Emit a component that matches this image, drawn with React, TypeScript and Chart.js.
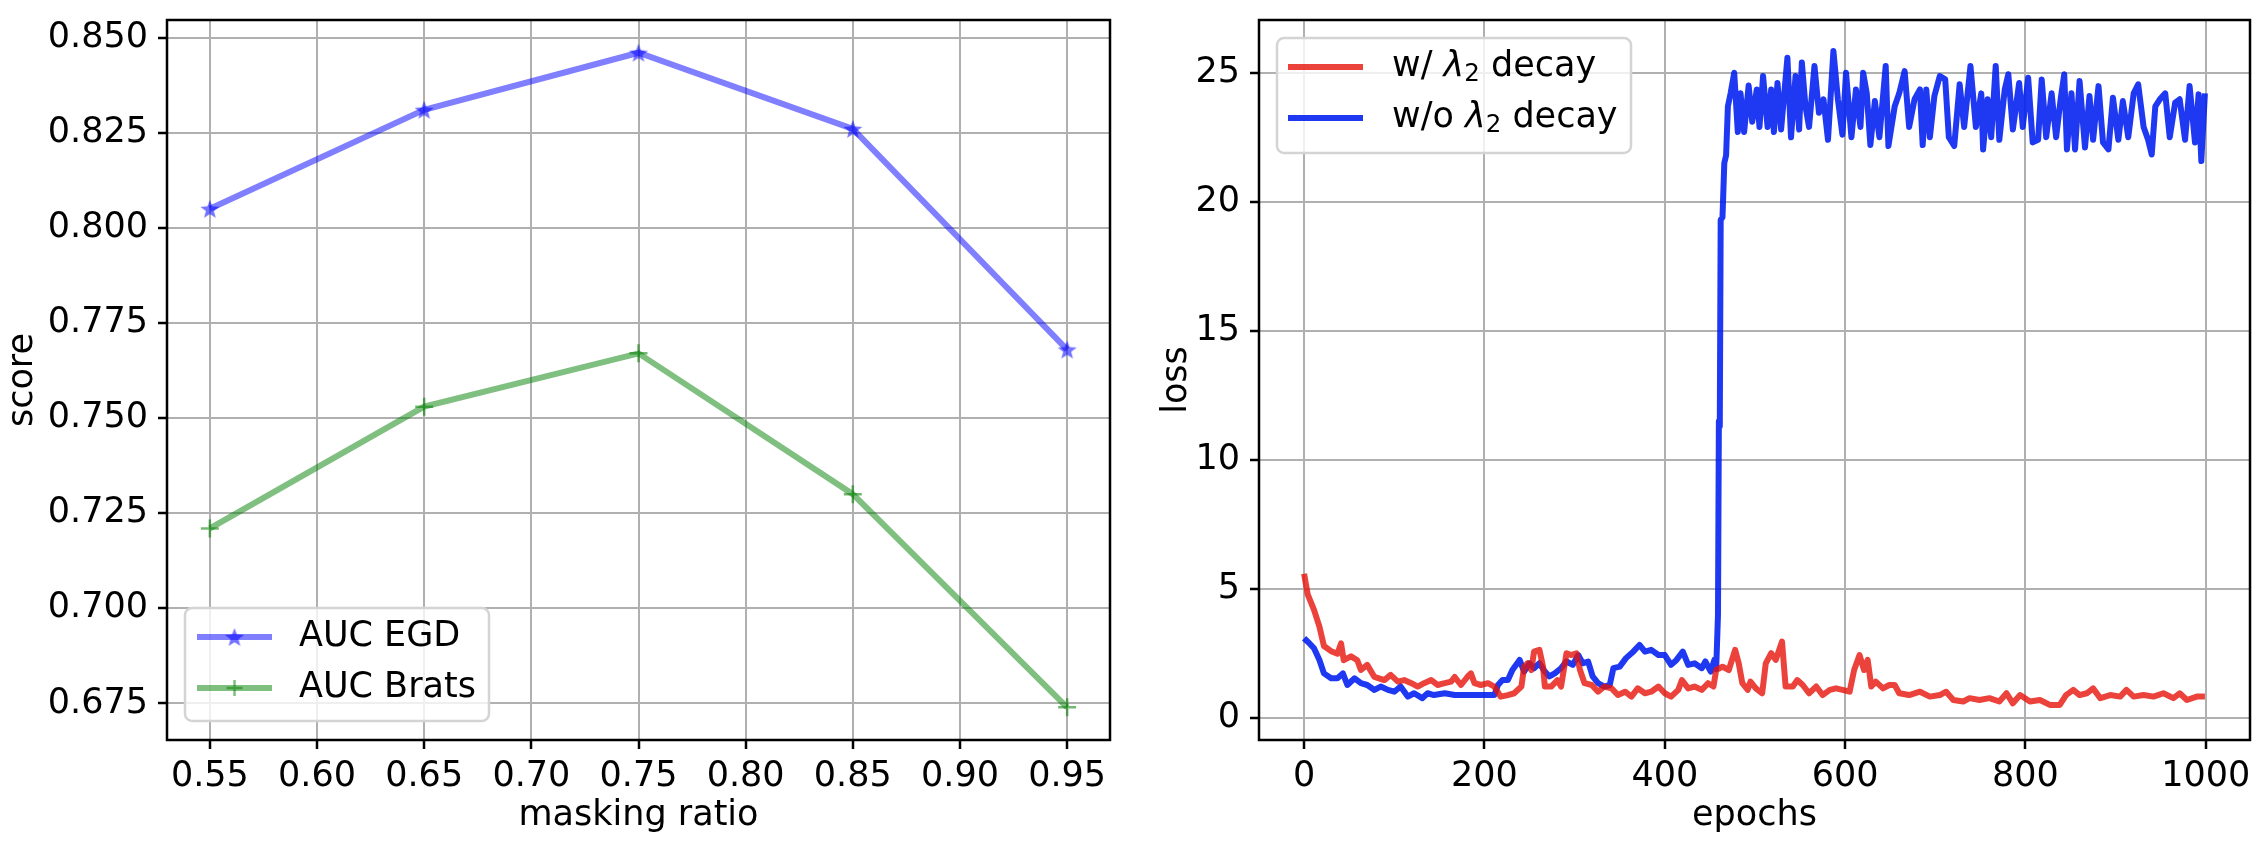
import { useEffect, useRef } from 'react'
import { Chart, registerables } from 'chart.js'

Chart.register(...registerables)

// left panel: score vs masking ratio
const maskingRatio = [0.55, 0.65, 0.75, 0.85, 0.95]
const aucEgd = [0.805, 0.831, 0.846, 0.826, 0.768]
const aucBrats = [0.721, 0.753, 0.767, 0.730, 0.674]
const ratioTicks = [0.55, 0.6, 0.65, 0.7, 0.75, 0.8, 0.85, 0.9, 0.95]
const scoreTicks = [0.675, 0.7, 0.725, 0.75, 0.775, 0.8, 0.825, 0.85]

// right panel: loss vs epochs
const epochTicks = [0, 200, 400, 600, 800, 1000]
const lossTicks = [0, 5, 10, 15, 20, 25]

const redEpochs = [
  0, 4, 11, 17, 22, 30, 37, 41, 44, 52, 59, 63, 70, 78, 89, 96, 104, 111, 119, 126,
  133, 141, 148, 156, 163, 167, 174, 181, 185, 189, 196, 204, 211, 218, 226, 233, 241, 244, 248, 252,
  255, 261, 265, 267, 274, 281, 285, 291, 296, 302, 306, 311, 319, 326, 333, 341, 348, 356, 363, 370,
  378, 385, 393, 400, 407, 415, 419, 426, 433, 441, 448, 454, 457, 464, 471, 478, 482, 486, 492, 495,
  501, 508, 512, 518, 523, 530, 534, 542, 547, 553, 560, 568, 575, 583, 590, 597, 605, 610, 616, 621,
  625, 629, 634, 642, 649, 655, 660, 671, 683, 694, 705, 712, 720, 731, 738, 749, 760, 771, 779, 786,
  794, 805, 816, 827, 838, 845, 853, 860, 868, 875, 883, 894, 905, 912, 920, 931, 942, 953, 964, 971,
  979, 990, 999,
]
const redLoss = [
  5.6, 4.8, 4.2, 3.55, 2.8, 2.6, 2.5, 2.9, 2.25, 2.4, 2.25, 1.87, 2.07, 1.6, 1.48, 1.68, 1.42, 1.48, 1.36, 1.23,
  1.36, 1.48, 1.29, 1.36, 1.42, 1.6, 1.29, 1.6, 1.74, 1.36, 1.29, 1.36, 1.23, 0.84, 0.9, 0.97, 1.23, 2.0, 2.13, 1.87,
  2.58, 2.65, 2.0, 1.23, 1.23, 1.48, 1.23, 2.52, 2.45, 2.52, 1.87, 1.36, 1.29, 1.03, 1.23, 1.16, 0.9, 1.03, 0.84, 1.16,
  0.97, 1.03, 1.23, 0.97, 0.84, 1.1, 1.48, 1.16, 1.23, 1.1, 1.36, 1.23, 1.87, 2.0, 1.87, 2.65, 2.13, 1.36, 1.1, 1.42,
  1.16, 0.97, 2.13, 2.52, 2.26, 2.97, 1.23, 1.23, 1.48, 1.29, 0.97, 1.23, 0.9, 1.1, 1.16, 1.1, 1.03, 1.87, 2.45, 1.87,
  2.26, 1.23, 1.42, 1.16, 1.29, 1.29, 0.97, 0.9, 1.03, 0.84, 0.9, 1.03, 0.71, 0.65, 0.78, 0.71, 0.78, 0.65, 0.97, 0.58,
  0.9, 0.65, 0.71, 0.52, 0.52, 0.9, 1.1, 0.9, 0.97, 1.16, 0.78, 0.9, 0.84, 1.1, 0.84, 0.9, 0.84, 0.97, 0.78, 0.97,
  0.71, 0.84, 0.84,
]

const blueEpochs = [
  0, 6, 11, 17, 22, 30, 37, 43, 48, 56, 63, 70, 78, 85, 93, 100, 107, 115, 122, 131,
  137, 144, 156, 167, 178, 189, 200, 211, 215, 220, 226, 231, 239, 244, 250, 255, 261, 267, 272, 278,
  285, 291, 298, 304, 309, 315, 320, 326, 333, 339, 343, 350, 357, 365, 372, 378, 385, 393, 400, 407,
  413, 420, 426, 433, 441, 445, 451, 455, 457, 459, 460, 461, 462, 464, 466, 468, 470, 473, 477, 481,
  484, 488, 493, 497, 502, 505, 509, 514, 518, 521, 525, 529, 536, 540, 545, 549, 552, 556, 560, 566,
  571, 576, 581, 587, 592, 597, 601, 607, 612, 617, 620, 624, 628, 633, 638, 645, 648, 655, 660, 666,
  671, 677, 683, 686, 690, 694, 699, 705, 711, 715, 721, 727, 732, 739, 745, 751, 753, 758, 762, 767,
  771, 777, 781, 786, 793, 797, 803, 808, 814, 818, 823, 829, 834, 839, 843, 846, 851, 855, 860, 866,
  871, 875, 881, 886, 892, 897, 903, 908, 914, 920, 925, 931, 936, 940, 944, 949, 955, 960, 966, 971,
  977, 982, 988, 992, 995, 999,
]
const blueLoss = [
  3.1, 2.9, 2.71, 2.26, 1.74, 1.55, 1.55, 1.74, 1.29, 1.55, 1.36, 1.29, 1.1, 1.23, 1.1, 1.03, 1.23, 0.84, 0.97, 0.78,
  0.97, 0.9, 0.97, 0.9, 0.9, 0.9, 0.9, 0.9, 1.29, 1.48, 1.48, 1.87, 2.26, 1.81, 2.13, 1.94, 2.13, 1.81, 1.62, 1.74,
  1.94, 2.2, 2.07, 2.45, 2.13, 2.2, 1.62, 1.36, 1.23, 1.29, 1.94, 2.0, 2.33, 2.58, 2.84, 2.58, 2.65, 2.45, 2.45, 2.07,
  2.26, 2.58, 2.07, 2.13, 1.94, 2.2, 1.81, 2.26, 1.9, 4.0, 11.5, 11.3, 19.3, 19.4, 21.5, 21.8, 23.7, 24.2, 25.0, 22.7,
  24.2, 22.7, 24.5, 23.1, 24.35, 22.9, 24.87, 22.9, 24.35, 22.7, 24.6, 22.8, 25.58, 22.5, 24.87, 22.8, 25.39, 23.7, 22.9, 25.26,
  23.45, 23.97, 22.4, 25.84, 23.97, 22.6, 25.0, 22.5, 24.35, 22.9, 25.0, 24.2, 22.2, 23.9, 22.5, 25.26, 22.16, 23.7, 24.2, 25.06,
  22.9, 23.97, 24.35, 22.2, 24.35, 22.5, 24.1, 24.87, 24.74, 22.5, 22.16, 24.55, 22.9, 25.26, 22.9, 24.2, 22.03, 23.97, 22.5, 25.26,
  22.4, 24.35, 24.94, 22.8, 24.6, 22.9, 24.8, 22.3, 22.4, 24.74, 22.5, 24.2, 22.5, 23.97, 24.94, 22.03, 24.2, 22.03, 24.68, 22.1,
  24.1, 22.4, 24.48, 22.3, 22.03, 24.03, 22.4, 23.9, 22.5, 24.2, 24.55, 22.9, 22.4, 21.83, 23.7, 23.97, 24.2, 22.5, 23.84, 23.97,
  22.4, 24.48, 22.3, 24.16, 21.58, 24.2,
]

const FAMILY = "'DejaVu Sans', sans-serif"
const FS = 35
const font = { family: FAMILY, size: FS }

type Part = { text: string; italic?: boolean; sub?: boolean }
type Row = { color: string; width: number; marker?: HTMLCanvasElement | 'plus'; markerColor?: string; parts: Part[] }
type BoxLegend = { x: number; y: number; w: number; h: number; lineX1: number; lineX2: number; textX: number; rowY: number[]; rows: Row[] }

function makeStar(r: number, color: string) {
  const c = document.createElement('canvas')
  const s = Math.ceil(r * 2 + 2)
  c.width = s
  c.height = s
  const ctx = c.getContext('2d')!
  ctx.beginPath()
  for (let i = 0; i < 10; i++) {
    const rad = i % 2 === 0 ? r : r * 0.42
    const a = -Math.PI / 2 + (i * Math.PI) / 5
    const px = s / 2 + rad * Math.cos(a)
    const py = s / 2 + 1 + rad * Math.sin(a)
    if (i === 0) ctx.moveTo(px, py)
    else ctx.lineTo(px, py)
  }
  ctx.closePath()
  ctx.fillStyle = color
  ctx.fill()
  return c
}

// matplotlib-like frame round the plot area
const framePlugin = {
  id: 'frame',
  afterDraw(chart: any) {
    const { ctx, chartArea: a } = chart
    ctx.save()
    ctx.strokeStyle = '#000'
    ctx.lineWidth = 2.5
    ctx.strokeRect(a.left, a.top, a.right - a.left, a.bottom - a.top)
    ctx.restore()
  },
}

function legendPlugin(opts: BoxLegend) {
  return {
    id: 'boxLegend',
    afterDatasetsDraw(chart: any) {
      const ctx = chart.ctx as CanvasRenderingContext2D
      ctx.save()
      ctx.beginPath()
      ctx.roundRect(opts.x, opts.y, opts.w, opts.h, 7)
      ctx.fillStyle = 'rgba(255,255,255,0.8)'
      ctx.fill()
      ctx.strokeStyle = '#d4d4d4'
      ctx.lineWidth = 2.5
      ctx.stroke()
      opts.rows.forEach((row, i) => {
        const y = opts.rowY[i]
        ctx.beginPath()
        ctx.moveTo(opts.lineX1, y)
        ctx.lineTo(opts.lineX2, y)
        ctx.strokeStyle = row.color
        ctx.lineWidth = row.width
        ctx.lineCap = 'butt'
        ctx.stroke()
        const mx = (opts.lineX1 + opts.lineX2) / 2
        if (row.marker instanceof HTMLCanvasElement) {
          ctx.drawImage(row.marker, mx - row.marker.width / 2, y - row.marker.height / 2)
        } else if (row.marker === 'plus') {
          ctx.beginPath()
          ctx.moveTo(mx - 8, y)
          ctx.lineTo(mx + 8, y)
          ctx.moveTo(mx, y - 8)
          ctx.lineTo(mx, y + 8)
          ctx.strokeStyle = row.markerColor || row.color
          ctx.lineWidth = 2.5
          ctx.stroke()
        }
        let x = opts.textX
        ctx.fillStyle = '#000'
        ctx.textAlign = 'left'
        ctx.textBaseline = 'middle'
        row.parts.forEach(p => {
          if (p.sub) {
            ctx.font = `24.5px ${FAMILY}`
            ctx.fillText(p.text, x, y + 8)
          } else {
            ctx.font = `${p.italic ? 'italic ' : ''}${FS}px ${FAMILY}`
            ctx.fillText(p.text, x, y)
          }
          x += ctx.measureText(p.text).width
        })
      })
      ctx.restore()
    },
  }
}

function fixedAxis(size: number, horizontal: boolean) {
  return (s: any) => {
    if (horizontal) s.height = size
    else s.width = size
    s.paddingTop = 0
    s.paddingBottom = 0
    s.paddingLeft = 0
    s.paddingRight = 0
  }
}

const gridOpts = { color: '#b0b0b0', lineWidth: 2, tickColor: '#000', tickLength: 9, tickWidth: 2.5 }

export default function App() {
  const leftRef = useRef<HTMLCanvasElement>(null)
  const rightRef = useRef<HTMLCanvasElement>(null)

  useEffect(() => {
    if (!leftRef.current || !rightRef.current) return
    const star = makeStar(10, 'rgba(0,0,255,0.55)')

    const left = new Chart(leftRef.current, {
      type: 'line',
      data: {
        datasets: [
          {
            label: 'AUC EGD',
            data: maskingRatio.map((x, i) => ({ x, y: aucEgd[i] })),
            borderColor: 'rgba(0,0,255,0.5)',
            borderWidth: 6,
            pointStyle: star,
            pointRadius: 10,
            tension: 0,
          },
          {
            label: 'AUC Brats',
            data: maskingRatio.map((x, i) => ({ x, y: aucBrats[i] })),
            borderColor: 'rgba(0,128,0,0.5)',
            borderWidth: 6,
            pointStyle: 'cross',
            pointRadius: 9,
            pointBorderColor: 'rgba(0,128,0,0.55)',
            pointBorderWidth: 2.5,
            tension: 0,
          },
        ],
      },
      options: {
        responsive: false,
        animation: false,
        devicePixelRatio: 1,
        layout: { padding: { top: 20, right: 24, left: 0, bottom: 0 }, autoPadding: false },
        plugins: { legend: { display: false }, tooltip: { enabled: false } },
        scales: {
          x: {
            type: 'linear',
            min: 0.53,
            max: 0.97,
            afterBuildTicks: (s: any) => { s.ticks = ratioTicks.map(v => ({ value: v })) },
            afterFit: fixedAxis(106, true),
            ticks: { color: '#000', font, padding: 7, maxRotation: 0, autoSkip: false, callback: (v: any) => Number(v).toFixed(2) },
            grid: gridOpts,
            border: { display: false },
            title: { display: true, text: 'masking ratio', color: '#000', font, padding: { top: 0, bottom: 9 } },
          },
          y: {
            type: 'linear',
            min: 0.6654,
            max: 0.8546,
            afterBuildTicks: (s: any) => { s.ticks = scoreTicks.map(v => ({ value: v })) },
            afterFit: fixedAxis(167, false),
            ticks: { color: '#000', font, padding: 10, autoSkip: false, callback: (v: any) => Number(v).toFixed(3) },
            grid: gridOpts,
            border: { display: false },
            title: { display: true, text: 'score', color: '#000', font, padding: { top: 2, bottom: 0 } },
          },
        },
      },
      plugins: [
        legendPlugin({
          x: 185, y: 608, w: 304, h: 113,
          lineX1: 197, lineX2: 272, textX: 299,
          rowY: [637, 688],
          rows: [
            { color: 'rgba(0,0,255,0.5)', width: 6, marker: star, parts: [{ text: 'AUC EGD' }] },
            { color: 'rgba(0,128,0,0.5)', width: 6, marker: 'plus', parts: [{ text: 'AUC Brats' }] },
          ],
        }),
        framePlugin,
      ],
    } as any)

    const right = new Chart(rightRef.current, {
      type: 'line',
      data: {
        datasets: [
          {
            label: 'w/ λ2 decay',
            data: redEpochs.map((x, i) => ({ x, y: redLoss[i] })),
            borderColor: 'rgba(230,20,10,0.8)',
            borderWidth: 6,
            pointRadius: 0,
            borderJoinStyle: 'round',
            tension: 0,
          },
          {
            label: 'w/o λ2 decay',
            data: blueEpochs.map((x, i) => ({ x, y: blueLoss[i] })),
            borderColor: 'rgba(0,30,240,0.88)',
            borderWidth: 6,
            pointRadius: 0,
            borderJoinStyle: 'round',
            tension: 0,
          },
        ],
      },
      options: {
        responsive: false,
        animation: false,
        devicePixelRatio: 1,
        layout: { padding: { top: 20, right: 18, left: 0, bottom: 0 }, autoPadding: false },
        plugins: { legend: { display: false }, tooltip: { enabled: false } },
        scales: {
          x: {
            type: 'linear',
            min: -50,
            max: 1049,
            afterBuildTicks: (s: any) => { s.ticks = epochTicks.map(v => ({ value: v })) },
            afterFit: fixedAxis(106, true),
            ticks: { color: '#000', font, padding: 7, maxRotation: 0, autoSkip: false, callback: (v: any) => String(v) },
            grid: gridOpts,
            border: { display: false },
            title: { display: true, text: 'epochs', color: '#000', font, padding: { top: 0, bottom: 9 } },
          },
          y: {
            type: 'linear',
            min: -0.84,
            max: 27.04,
            afterBuildTicks: (s: any) => { s.ticks = lossTicks.map(v => ({ value: v })) },
            afterFit: fixedAxis(125, false),
            ticks: { color: '#000', font, padding: 10, autoSkip: false, callback: (v: any) => String(v) },
            grid: gridOpts,
            border: { display: false },
            title: { display: true, text: 'loss', color: '#000', font, padding: { top: 22, bottom: 0 } },
          },
        },
      },
      plugins: [
        legendPlugin({
          x: 143, y: 38, w: 354, h: 115,
          lineX1: 154, lineX2: 229, textX: 258,
          rowY: [67, 118],
          rows: [
            { color: 'rgba(230,20,10,0.8)', width: 6, parts: [{ text: 'w/ ' }, { text: 'λ', italic: true }, { text: '2', sub: true }, { text: ' decay' }] },
            { color: 'rgba(0,30,240,0.88)', width: 6, parts: [{ text: 'w/o ' }, { text: 'λ', italic: true }, { text: '2', sub: true }, { text: ' decay' }] },
          ],
        }),
        framePlugin,
      ],
    } as any)

    return () => {
      left.destroy()
      right.destroy()
    }
  }, [])

  return (
    <div style={{ position: 'absolute', left: 0, top: 0, width: 2268, height: 846, background: '#fff' }}>
      <canvas ref={leftRef} width={1134} height={846} style={{ position: 'absolute', left: 0, top: 0 }} />
      <canvas ref={rightRef} width={1134} height={846} style={{ position: 'absolute', left: 1134, top: 0 }} />
    </div>
  )
}
